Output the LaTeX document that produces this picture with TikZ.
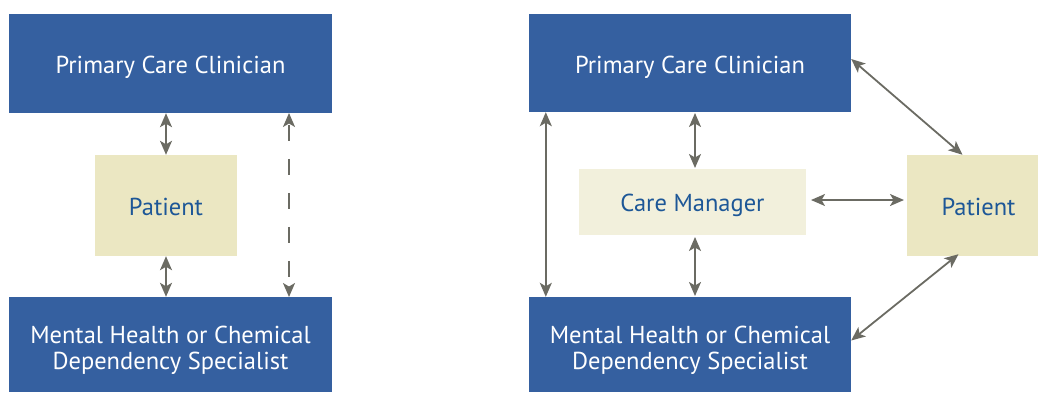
\documentclass[tikz,border=0pt]{standalone}
\usepackage{fontspec}
\setmainfont{PT Sans}
\usetikzlibrary{arrows.meta}
\definecolor{boxblue}{HTML}{3560A0}
\definecolor{patfill}{HTML}{EBE7C2}
\definecolor{cmfill}{HTML}{F2F0DC}
\definecolor{arrgray}{HTML}{6B6B63}
\definecolor{txtblue}{HTML}{1D5797}
\newcommand{\oneline}[2]{\raisebox{-#1pt}[0pt][0pt]{#2}}
\newcommand{\twolines}[2]{\raisebox{1.5pt}[0pt][0pt]{\begin{tabular}[t]{@{}c@{}}#1\\#2\end{tabular}}}
\tikzset{
  bluebox/.style={fill=boxblue, text=white, inner sep=0pt, font=\fontsize{24.5}{26.5}\selectfont, align=center},
  patbox/.style={fill=patfill, text=txtblue, inner sep=0pt, font=\fontsize{24.5}{28}\selectfont},
  cmbox/.style={fill=cmfill, text=txtblue, inner sep=0pt, font=\fontsize{24.5}{28}\selectfont},
  conn/.style={draw=arrgray, line width=1.8pt, {Stealth[length=14pt,width=12pt,inset=3.5pt]}-{Stealth[length=14pt,width=12pt,inset=3.5pt]}},
}
\begin{document}
\begin{tikzpicture}[x=1pt,y=-1pt]
\useasboundingbox (0,0) rectangle (1038,392);
% left
\node[bluebox, minimum width=323pt, minimum height=99pt] (pcc1) at (170.5,63.5) {\oneline{9.5}{Primary Care Clinician}};
\node[bluebox, minimum width=323pt, minimum height=95pt] (mh1) at (170.5,344.5) {\twolines{Mental Health or Chemical}{Dependency Specialist}};
\node[patbox, minimum width=142pt, minimum height=101pt] (pat1) at (166,205.5) {\oneline{9.5}{Patient}};
\draw[conn] (pat1.north |- pcc1.south) -- (pat1.north);
\draw[conn] (pat1.south) -- (pat1.south |- mh1.north);
\coordinate (d1) at (289,113);
\coordinate (d2) at (289,297);
\draw[conn, dash pattern=on 16pt off 18pt, dash phase=-2pt] (d1) -- (d2);
% right
\node[bluebox, minimum width=322pt, minimum height=98pt] (pcc2) at (690,63) {\oneline{10}{Primary Care Clinician}};
\node[bluebox, minimum width=322pt, minimum height=95pt] (mh2) at (690,344.5) {\twolines{Mental Health or Chemical}{Dependency Specialist}};
\node[cmbox, minimum width=227pt, minimum height=66pt] (cm) at (692.5,202) {\oneline{9}{Care Manager}};
\node[patbox, minimum width=131pt, minimum height=101pt] (pat2) at (972.5,205.5) {\hspace*{12pt}\oneline{9.5}{Patient}};
\draw[conn] (695,113) -- (695,168);
\draw[conn] (695,237) -- (695,296);
\draw[conn] ([xshift=17pt]pcc2.south west) -- ([xshift=17pt]mh2.north west);
\coordinate (h1) at (811,200);
\coordinate (h2) at (904,200);
\draw[conn] (h1) -- (h2);
\draw[conn] ([yshift=4pt]pcc2.east) -- ([xshift=-10pt]pat2.north);
\draw[conn] ([yshift=4pt]mh2.east) -- ([xshift=-14pt,yshift=2pt]pat2.south);
\end{tikzpicture}
\end{document}
